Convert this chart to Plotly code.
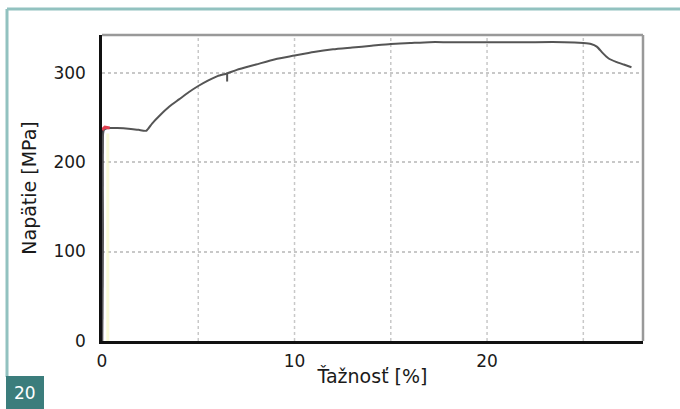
import plotly.graph_objects as go

# Stress-strain curve
strain = [0, 0.05, 0.1, 0.3, 0.8, 1.5, 1.9, 2.3, 2.6, 3.0, 3.5, 4.0, 4.5, 5.0, 5.5,
          6.0, 6.5, 7.0, 8.0, 9.0, 10.0, 11.0, 12.0, 13.0, 14.0, 15.0, 16.0, 17.0,
          18.0, 20.0, 22.0, 24.0, 25.0, 25.4, 25.7, 26.0, 26.3, 26.7, 27.1, 27.5]
stress = [0, 120, 236, 238, 238, 237, 236, 235, 243, 252, 262, 270, 278, 285, 291,
          296, 299, 303, 309, 315, 319, 323, 326, 328, 330, 332, 333, 334,
          334, 334, 334, 334, 333, 332, 329, 322, 316, 312, 309, 306]

glitch_x = [6.5, 6.5]
glitch_y = [300, 290]

yield_x = [0.0, 0.15, 0.4]
yield_y = [236, 239, 238]

elastic_x = [0.3, 0.3]
elastic_y = [0, 232]

x_ticks = [0, 10, 20]
y_ticks = [0, 100, 200, 300]
x_grid = [0, 5, 10, 15, 20, 25]

W, H = 680, 409
ML, MR, MT, MB = 102, 37, 35, 68
PW, PH = W - ML - MR, H - MT - MB


def px(x):
    return (x - ML) / PW


def py(y):
    return (H - MB - y) / PH


fig = go.Figure()
fig.add_trace(go.Scatter(x=elastic_x, y=elastic_y, mode="lines",
                         line=dict(color="rgba(245,248,190,0.6)", width=3),
                         hoverinfo="skip"))
fig.add_trace(go.Scatter(x=[0, 0.02], y=[0, 236], mode="lines",
                         line=dict(color="#222", width=2.5)))
fig.add_trace(go.Scatter(x=strain, y=stress, mode="lines",
                         line=dict(color="#555", width=2, shape="spline", smoothing=0.6)))
fig.add_trace(go.Scatter(x=glitch_x, y=glitch_y, mode="lines",
                         line=dict(color="#555", width=2)))
fig.add_trace(go.Scatter(x=yield_x, y=yield_y, mode="lines",
                         line=dict(color="#e04050", width=3)))

shapes = []
# vertical grid lines every 5 %
for gx in x_grid[1:]:
    shapes.append(dict(type="line", xref="x", yref="paper", x0=gx, x1=gx, y0=0, y1=1,
                       line=dict(color="#c8c8c8", width=1.5, dash="dot"), layer="below"))
# frame: top & right grey
shapes.append(dict(type="line", xref="paper", yref="paper", x0=0, x1=1, y0=1, y1=1,
                   line=dict(color="#999", width=2.5)))
shapes.append(dict(type="line", xref="paper", yref="paper", x0=1, x1=1, y0=0, y1=1,
                   line=dict(color="#999", width=2.5)))
# teal outer border
shapes.append(dict(type="line", xref="paper", yref="paper", x0=px(7), x1=px(680),
                   y0=py(9), y1=py(9), line=dict(color="#92c2c0", width=3)))
shapes.append(dict(type="line", xref="paper", yref="paper", x0=px(7), x1=px(7),
                   y0=py(9), y1=py(377), line=dict(color="#92c2c0", width=3)))
# page number box
shapes.append(dict(type="rect", xref="paper", yref="paper", x0=px(6), x1=px(44),
                   y0=py(376), y1=py(409), fillcolor="#3b7d7c", line=dict(width=0)))

FONT = "DejaVu Sans, Liberation Sans, Arial, sans-serif"

fig.update_layout(
    width=W, height=H,
    margin=dict(l=ML, r=MR, t=MT, b=MB),
    paper_bgcolor="white", plot_bgcolor="white",
    showlegend=False,
    shapes=shapes,
    font=dict(family=FONT, size=17, color="#1a1a1a"),
    annotations=[dict(text="20", xref="paper", yref="paper", x=px(25), y=py(393),
                      xanchor="center", yanchor="middle",
                      showarrow=False, font=dict(color="white", size=17, family=FONT))],
    xaxis=dict(range=[0, 28.1], tickvals=x_ticks, showgrid=False, zeroline=False,
               showline=True, linecolor="#111", linewidth=2.5, ticks="",
               ticklabelstandoff=3,
               title=dict(text="Ťažnosť [%]", standoff=0,
                          font=dict(family=FONT, size=19, color="#1a1a1a")),
               fixedrange=True),
    yaxis=dict(range=[0, 342], tickvals=y_ticks, showgrid=True, gridcolor="#c8c8c8",
               griddash="dot", gridwidth=1.5, zeroline=False,
               showline=True, linecolor="#111", linewidth=2.5, ticks="",
               ticklabelstandoff=10,
               title=dict(text="Napätie [MPa]", standoff=12,
                          font=dict(family=FONT, size=19, color="#1a1a1a")),
               fixedrange=True),
)

fig.write_html("out.html", post_script="document.body.style.margin='0';",
               config={"displayModeBar": False})
